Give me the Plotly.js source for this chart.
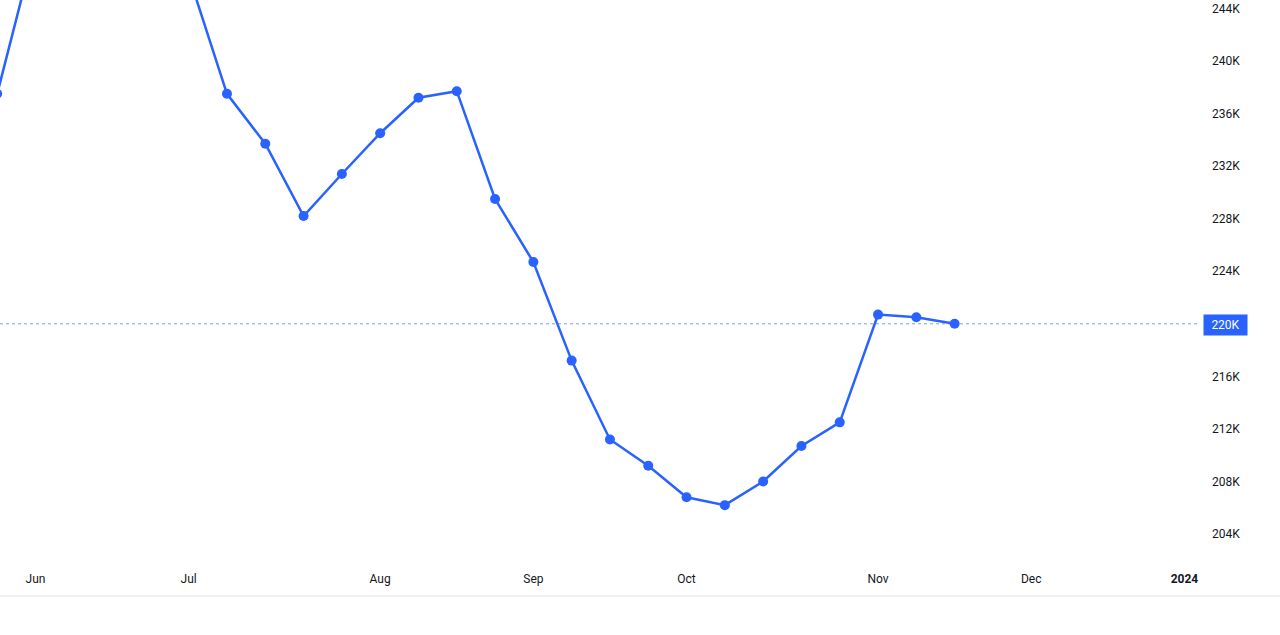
<!DOCTYPE html>
<html>
<head>
<meta charset="utf-8">
<script src="https://cdn.plot.ly/plotly-3.0.1.min.js"></script>
<style>
  html, body { margin: 0; padding: 0; background: #ffffff; }
  #chart { width: 1280px; height: 635px; }
</style>
</head>
<body>
<div id="chart"></div>
<script>
// weekly bars (week starting Monday), values in thousands
var weeks = [
  '2023-05-29', '2023-06-05', '2023-06-12', '2023-06-19', '2023-06-26',
  '2023-07-03', '2023-07-10', '2023-07-17', '2023-07-24', '2023-07-31',
  '2023-08-07', '2023-08-14', '2023-08-21', '2023-08-28', '2023-09-04',
  '2023-09-11', '2023-09-18', '2023-09-25', '2023-10-02', '2023-10-09',
  '2023-10-16', '2023-10-23', '2023-10-30', '2023-11-06', '2023-11-13',
  '2023-11-20'
];
var claimsK = [
  237.5, 248.9, 252.5, 255.8, 256.0,
  246.5, 237.5, 233.7, 228.2, 231.4,
  234.5, 237.2, 237.7, 229.5, 224.7,
  217.2, 211.2, 209.2, 206.8, 206.2,
  208.0, 210.7, 212.5, 220.7, 220.5,
  220.0
];

// time scale labels sit on the first bar of each month
var monthTicks = ['2023-06-05', '2023-07-03', '2023-08-07', '2023-09-04',
                  '2023-10-02', '2023-11-06', '2023-12-04', '2024-01-01'];
var monthLabels = ['Jun', 'Jul', 'Aug', 'Sep', 'Oct', 'Nov', 'Dec', '<b>2024</b>'];

var priceTicks = [204, 208, 212, 216, 224, 228, 232, 236, 240, 244];
var priceLabels = ['204K', '208K', '212K', '216K', '224K', '228K', '232K', '236K', '240K', '244K'];

var lastValue = claimsK[claimsK.length - 1];
var blue = '#2962ff';

var trace = {
  x: weeks,
  y: claimsK,
  type: 'scatter',
  mode: 'lines+markers',
  line: {color: blue, width: 2.5},
  marker: {color: blue, size: 10},
  hoverinfo: 'x+y'
};

var layout = {
  width: 1280,
  height: 635,
  margin: {l: 0, r: 80, t: 0, b: 69},
  paper_bgcolor: '#ffffff',
  plot_bgcolor: '#ffffff',
  showlegend: false,
  font: {family: 'Roboto, "Liberation Sans", sans-serif', size: 12, color: '#131722'},
  xaxis: {
    type: 'date',
    range: ['2023-05-29 12:17', '2024-01-03 20:24'],
    tickmode: 'array',
    tickvals: monthTicks,
    ticktext: monthLabels,
    showgrid: false,
    zeroline: false,
    showline: false,
    ticks: '',
    ticklabelstandoff: 4,
    fixedrange: true
  },
  yaxis: {
    side: 'right',
    range: [201.57, 244.64],
    tickmode: 'array',
    tickvals: priceTicks,
    ticktext: priceLabels,
    showgrid: false,
    zeroline: false,
    showline: false,
    ticks: '',
    ticklabelstandoff: 11,
    fixedrange: true
  },
  shapes: [
    {
      // last value line
      type: 'line', xref: 'paper', yref: 'y',
      x0: 0, x1: 1, y0: lastValue, y1: lastValue,
      line: {color: blue, width: 1, dash: 'dot'},
      opacity: 0.6
    },
    {
      // bottom border of the widget
      type: 'line', xref: 'paper', yref: 'paper',
      x0: 0, x1: 1.07, y0: -0.053, y1: -0.053,
      line: {color: '#e0e3eb', width: 1}
    }
  ],
  annotations: [
    {
      xref: 'paper', yref: 'y',
      x: 1, y: lastValue,
      xanchor: 'left', yanchor: 'middle',
      xshift: 3, yshift: -1,
      text: lastValue.toFixed(0) + 'K',
      showarrow: false,
      bgcolor: blue,
      width: 41, height: 18,
      align: 'center',
      font: {color: '#ffffff', size: 12, family: 'Roboto, "Liberation Sans", sans-serif'}
    }
  ]
};

Plotly.newPlot('chart', [trace], layout, {displayModeBar: false, responsive: false});
</script>
</body>
</html>
